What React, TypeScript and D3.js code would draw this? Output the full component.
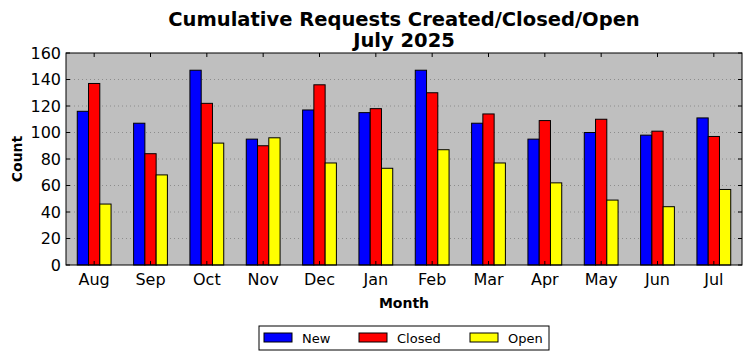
import React from 'react';
import * as d3 from 'd3';

const months = ['Aug', 'Sep', 'Oct', 'Nov', 'Dec', 'Jan', 'Feb', 'Mar', 'Apr', 'May', 'Jun', 'Jul'];
const newCounts = [116, 107, 147, 95, 117, 115, 147, 107, 95, 100, 98, 111];
const closedCounts = [137, 84, 122, 90, 136, 118, 130, 114, 109, 110, 101, 97];
const openCounts = [46, 68, 92, 96, 77, 73, 87, 77, 62, 49, 44, 57];
const yTicks = [0, 20, 40, 60, 80, 100, 120, 140, 160];

const seriesNames = ['New', 'Closed', 'Open'];
const seriesColors = ['#0000ff', '#ff0000', '#ffff00'];

const W = 752;
const H = 361;
const margin = { top: 53, right: 10, bottom: 96, left: 66 };
const font = 'DejaVu Sans, sans-serif';

const App: React.FC = () => {
  const x0 = margin.left;
  const x1 = W - margin.right;
  const y0 = margin.top;
  const y1 = H - margin.bottom;

  // x axis like matplotlib: categories at integer positions, range -0.5..11.5
  const x = d3.scaleLinear().domain([-0.5, months.length - 0.5]).range([x0, x1]);
  const y = d3.scaleLinear().domain([0, 160]).range([y1, y0]);
  const barW = x(0.2) - x(0);

  const series = [newCounts, closedCounts, openCounts];

  return (
    <svg width={W} height={H} style={{ position: 'absolute', left: 0, top: 0 }} fontFamily={font}>
      <rect x={0} y={0} width={W} height={H} fill="#fff" />
      {/* plot background */}
      <rect x={x0} y={y0} width={x1 - x0} height={y1 - y0} fill="#bfbfbf" />

      {/* grid */}
      {yTicks.slice(1, -1).map(t => (
        <line key={'g' + t} x1={x0} x2={x1} y1={y(t)} y2={y(t)}
          stroke="#8c8c8c" strokeWidth={1} strokeDasharray="1,3" />
      ))}

      {/* bars */}
      {series.map((vals, si) =>
        vals.map((v, i) => (
          <rect key={si + '-' + i}
            x={x(i + (si - 1) * 0.2 - 0.1)}
            y={y(v)}
            width={barW}
            height={y(0) - y(v)}
            fill={seriesColors[si]}
            stroke="#000" strokeWidth={1} />
        ))
      )}

      {/* ticks */}
      {yTicks.map(t => (
        <g key={'yt' + t}>
          <line x1={x0} x2={x0 + 4} y1={y(t)} y2={y(t)} stroke="#000" />
          <line x1={x1 - 4} x2={x1} y1={y(t)} y2={y(t)} stroke="#000" />
          <text x={x0 - 5} y={y(t)} dy="0.36em" textAnchor="end" fontSize={16}>{t}</text>
        </g>
      ))}
      {months.map((m, i) => (
        <g key={m}>
          <line x1={x(i)} x2={x(i)} y1={y0} y2={y0 + 4} stroke="#000" />
          <line x1={x(i)} x2={x(i)} y1={y1 - 4} y2={y1} stroke="#000" />
          <text x={x(i)} y={y1 + 20} textAnchor="middle" fontSize={16}>{m}</text>
        </g>
      ))}

      {/* frame */}
      <rect x={x0} y={y0} width={x1 - x0} height={y1 - y0} fill="none" stroke="#000" strokeWidth={1} />

      {/* titles */}
      <text x={(x0 + x1) / 2} y={26} textAnchor="middle" fontSize={19.5} fontWeight="bold">
        Cumulative Requests Created/Closed/Open
      </text>
      <text x={(x0 + x1) / 2} y={47} textAnchor="middle" fontSize={19.5} fontWeight="bold">
        July 2025
      </text>
      <text x={(x0 + x1) / 2} y={308} textAnchor="middle" fontSize={14} fontWeight="bold">Month</text>
      <text transform={`translate(22,${(y0 + y1) / 2}) rotate(-90)`} textAnchor="middle" fontSize={14} fontWeight="bold">Count</text>

      {/* legend */}
      <g>
        <rect x={259} y={326} width={290} height={24} fill="#fff" stroke="#000" strokeWidth={1} />
        {seriesNames.map((name, i) => {
          const lx = [264, 359, 470][i];
          return (
            <g key={name}>
              <rect x={lx} y={333} width={28} height={9} fill={seriesColors[i]} stroke="#000" />
              <text x={lx + 38} y={343} fontSize={13}>{name}</text>
            </g>
          );
        })}
      </g>
    </svg>
  );
};

export default App;
